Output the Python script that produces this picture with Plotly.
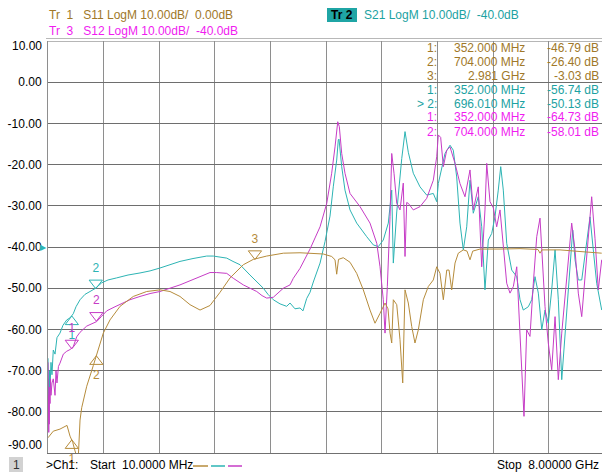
import plotly.graph_objects as go

FONT = "Liberation Sans, Arial, sans-serif"
C11_LINE, C11_TEXT = "#b68c3c", "#a07828"
C21_LINE, C21_TEXT = "#2db4b4", "#1ca2a2"
C12_LINE, C12_TEXT = "#c63cc6", "#f01cf0"

# ---------------- data ----------------
start_ghz, stop_ghz = 0.01, 8.0

# S21 (Tr 2), dB, ref -40 dB
freq_s21 = [0.010, 0.013, 0.017, 0.021, 0.024, 0.028, 0.032, 0.039, 0.053, 0.067,
            0.086, 0.111, 0.139, 0.182, 0.225, 0.279, 0.326, 0.373, 0.412, 0.470,
            0.541, 0.613, 0.685, 0.781, 0.872, 0.996, 1.159, 1.331, 1.475, 1.618,
            1.762, 1.905, 2.092, 2.289, 2.383, 2.480, 2.576, 2.666, 2.767, 2.910,
            2.996, 3.101, 3.169, 3.245, 3.341, 3.437, 3.485, 3.556, 3.628, 3.671,
            3.724, 3.772, 3.819, 3.858, 3.916, 3.987, 4.059, 4.106, 4.155, 4.178,
            4.188, 4.227, 4.274, 4.346, 4.442, 4.586, 4.681, 4.753, 4.824, 4.896,
            4.921, 4.945, 4.968, 5.017, 5.089, 5.136, 5.183, 5.255, 5.351, 5.447,
            5.542, 5.591, 5.614, 5.663, 5.710, 5.782, 5.829, 5.878, 5.925, 5.973,
            6.022, 6.069, 6.116, 6.188, 6.237, 6.284, 6.332, 6.381, 6.428, 6.475,
            6.510, 6.547, 6.596, 6.668, 6.740, 6.787, 6.834, 6.906, 6.955, 7.002,
            7.050, 7.099, 7.146, 7.193, 7.242, 7.290, 7.337, 7.386, 7.409, 7.458,
            7.505, 7.544, 7.577, 7.624, 7.673, 7.745, 7.792, 7.839, 7.888, 7.960]
s21_db = [-67, -76, -70, -80, -72, -78, -70, -74, -68, -71,
          -65, -66, -62, -60.9, -59, -57.7, -57.2, -56.2, -54.5, -52.8,
          -51.5, -50.8, -50.1, -48.7, -48, -47.5, -46.8, -46.3, -45.8, -45.1,
          -44.3, -43.5, -42.8, -42.2, -42.2, -42.5, -42.7, -43.5, -44.3, -46.8,
          -48.3, -50, -51.5, -52.8, -53.8, -54.4, -53.6, -55, -54.8, -55.5,
          -52.5, -51, -48.5, -46.5, -43.9, -38.7, -32.5, -25.4, -18.9, -14,
          -13.8, -20.5, -26.2, -31, -34.2, -37.5, -39.5, -39.9, -38.3, -34.2,
          -30.2, -26.2, -43.9, -31.5, -18.5, -12, -17, -22.1, -25.4, -27.4,
          -27, -29, -24.6, -20.5, -17.3, -15.3, -16.5, -23, -34.2, -40.7,
          -35.1, -23.8, -31.8, -27.8, -35.1, -50.4, -38.3, -36.7, -32.6, -26.2,
          -20.5, -26.2, -39.1, -45.6, -47.2, -52.8, -55.3, -54.5, -52.8, -47.2,
          -51.2, -60.1, -55.3, -58.5, -50.4, -40.7, -52.8, -72.2, -66.6, -55.3,
          -43.1, -35.9, -43.1, -48, -48, -39.1, -32.7, -40.7, -48.8, -55.3]

# S12 (Tr 3), dB, ref -40 dB
freq_s12 = [0.010, 0.013, 0.017, 0.021, 0.024, 0.028, 0.032, 0.039, 0.046, 0.053,
            0.067, 0.086, 0.111, 0.125, 0.139, 0.160, 0.182, 0.230, 0.279, 0.326,
            0.373, 0.422, 0.470, 0.566, 0.627, 0.709, 0.781, 0.853, 0.972, 1.091,
            1.187, 1.331, 1.475, 1.618, 1.762, 1.905, 2.049, 2.193, 2.336, 2.432,
            2.576, 2.671, 2.814, 2.910, 3.007, 3.083, 3.150, 3.245, 3.312, 3.389,
            3.485, 3.532, 3.628, 3.700, 3.772, 3.844, 3.916, 4.012, 4.083, 4.131,
            4.170, 4.193, 4.227, 4.274, 4.346, 4.490, 4.633, 4.730, 4.777, 4.824,
            4.849, 4.882, 4.921, 4.945, 4.978, 5.017, 5.040, 5.064, 5.111, 5.136,
            5.160, 5.183, 5.255, 5.351, 5.447, 5.542, 5.591, 5.614, 5.648, 5.686,
            5.735, 5.782, 5.854, 5.925, 5.997, 6.069, 6.116, 6.188, 6.237, 6.284,
            6.309, 6.356, 6.404, 6.452, 6.500, 6.547, 6.596, 6.643, 6.691, 6.740,
            6.777, 6.811, 6.844, 6.883, 6.930, 6.978, 7.027, 7.074, 7.113, 7.146,
            7.193, 7.242, 7.290, 7.337, 7.386, 7.433, 7.480, 7.529, 7.577, 7.624,
            7.673, 7.720, 7.768, 7.816, 7.864, 7.911, 7.960]
s12_db = [-68, -80, -72, -85, -76, -83, -74, -78, -72, -76,
          -73, -72, -76, -70, -73, -69, -68.2, -66, -65.3, -64.9,
          -64.2, -61.8, -60.7, -59.2, -58.7, -58.1, -56.8, -55.5, -54.5, -53.6,
          -52.8, -52, -51.3, -50.8, -50, -49.2, -48.2, -47.2, -46.2, -46.2,
          -46.4, -47.6, -49.2, -50, -50.8, -51.8, -52.4, -52.2, -51.2, -50,
          -49.2, -47.6, -45.2, -43, -40.5, -37.8, -35.1, -29.4, -22.1, -15.7,
          -9.6, -10.8, -17.3, -22.1, -27, -30.2, -34.2, -39.1, -44.8, -52.8,
          -60.9, -49.6, -32.6, -17.3, -22.1, -29.4, -30.2, -31, -24.5, -42.3,
          -29.2, -29.4, -31, -30.2, -28.2, -23.8, -18.1, -12.8, -13.4, -20.5,
          -16.5, -15.7, -19.7, -24.6, -27.8, -21.3, -31, -25.4, -44.8, -31,
          -19.7, -29, -30.5, -35.1, -31, -40.7, -48.8, -51.2, -49.6, -44.8,
          -56.9, -71.4, -81.1, -60.1, -61.7, -48.8, -37.5, -33, -44, -54.5,
          -63.3, -69.8, -56.9, -72.2, -60.9, -51.7, -43.9, -34.2, -40.7, -51.2,
          -56.9, -47.2, -35.9, -27.8, -38, -50.4, -43.1]

# S11 (Tr 1), dB, ref 0 dB
freq_s11 = [0.010, 0.086, 0.182, 0.254, 0.283, 0.326, 0.365, 0.398, 0.426, 0.445,
            0.470, 0.494, 0.566, 0.660, 0.732, 0.804, 0.900, 1.044, 1.235, 1.427,
            1.618, 1.762, 1.905, 2.049, 2.193, 2.336, 2.480, 2.624, 2.814, 2.958,
            3.150, 3.389, 3.628, 3.819, 3.963, 4.083, 4.131, 4.155, 4.181, 4.250,
            4.346, 4.442, 4.537, 4.633, 4.705, 4.777, 4.849, 4.892, 4.921, 4.945,
            4.968, 5.017, 5.064, 5.103, 5.136, 5.183, 5.232, 5.279, 5.327, 5.399,
            5.470, 5.542, 5.591, 5.638, 5.686, 5.735, 5.768, 5.806, 5.854, 5.901,
            5.973, 6.026, 6.069, 6.108, 6.213, 6.500, 6.787, 7.045, 7.074, 7.103,
            7.361, 7.648, 7.960]
s11_db = [-46.3, -44.7, -44.2, -43.5, -43.3, -45.9, -47.4, -49.5, -51, -51,
          -42, -39, -33.8, -28.8, -24.6, -20.9, -17.7, -14.4, -12, -10.8,
          -10.4, -10.8, -12, -14, -15.3, -14.2, -11, -7.5, -4.3, -3,
          -2.2, -1.5, -1.4, -1.5, -1.7, -2.3, -3.1, -6.6, -3, -2.6,
          -3.7, -6.4, -10.4, -15.3, -18.5, -16.1, -13.6, -15, -20.9, -23.3,
          -12.8, -14, -22.5, -33, -10.4, -13.6, -19.3, -23.3, -20.1, -12.8,
          -9.6, -8, -4.8, -6.4, -12.8, -5.6, -5.6, -10.4, -3.9, -1.5,
          -0.7, -1, -3.1, -1, -0.5, -0.5, -0.4, -0.6, -1.5, -0.7,
          -0.7, -1.1, -1.5]

# markers
s11_mk_freq = [0.352, 0.704, 2.981]
s11_mk_db = [-46.79, -26.40, -3.03]
s11_mk_below = [True, True, False]
s21_mk_freq = [0.352, 0.69601]
s21_mk_db = [-56.74, -50.13]
s21_mk_below = [True, False]
s21_active = 1
s12_mk_freq = [0.352, 0.704]
s12_mk_db = [-64.73, -58.01]
s12_mk_below = [False, False]

y_tick_vals = [10, 0, -10, -20, -30, -40, -50, -60, -70, -80, -90]
y_tick_text = ["10.00", "0.00", "-10.00", "-20.00", "-30.00", "-40.00",
               "-50.00", "-60.00", "-70.00", "-80.00", "-90.00"]

# ---------------- layout geometry ----------------
W, H = 602, 474
PL, PR, PT, PB = 48, 602, 41, 453
DIV_PX = 55.65
x_end = start_ghz + (stop_ghz - start_ghz) * (PR - PL) / (10 * DIV_PX)
grid_x = [start_ghz + k * (stop_ghz - start_ghz) / 10 for k in range(10)]


def fx(x):
    return (x - PL) / (PR - PL)


def fy(y):
    return (PB - y) / (PB - PT)


fig = go.Figure()

fig.add_trace(go.Scatter(x=freq_s21, y=s21_db, mode="lines",
                         line=dict(color=C21_LINE, width=1), hoverinfo="skip"))
fig.add_trace(go.Scatter(x=freq_s12, y=s12_db, mode="lines",
                         line=dict(color=C12_LINE, width=1), hoverinfo="skip"))
fig.add_trace(go.Scatter(x=freq_s11, y=s11_db, mode="lines", yaxis="y2",
                         line=dict(color=C11_LINE, width=1), hoverinfo="skip"))

DB_PER_PX = 100.0 / (PB - PT)
MK_SIZE = 11.5
OFF = (MK_SIZE / 2) * DB_PER_PX


def add_markers(freqs, dbs, below, color, yaxis):
    for i, (f, v, b) in enumerate(zip(freqs, dbs, below)):
        if b:
            y, sym, tp = v - OFF, "triangle-up-open", "bottom center"
        else:
            y, sym, tp = v + OFF, "triangle-down-open", "top center"
        fig.add_trace(go.Scatter(
            x=[f], y=[y], mode="markers+text", text=[str(i + 1)], textposition=tp,
            marker=dict(symbol=sym, size=MK_SIZE, color=color, line=dict(width=1, color=color)),
            textfont=dict(family=FONT, size=12, color=color),
            cliponaxis=False, yaxis=yaxis, hoverinfo="skip"))


add_markers(s21_mk_freq, s21_mk_db, s21_mk_below, C21_LINE, "y")
add_markers(s12_mk_freq, s12_mk_db, s12_mk_below, C12_LINE, "y")
add_markers(s11_mk_freq, s11_mk_db, s11_mk_below, C11_LINE, "y2")

ann = []
shapes = []


def text(x, y, s, color="#000000", anchor="left", size=12, **kw):
    ann.append(dict(x=fx(x), y=fy(y), xref="paper", yref="paper", text=s, showarrow=False,
                    xanchor=anchor, yanchor="middle",
                    font=dict(family=FONT, size=size, color=color), **kw))


NB = "\u00a0"
# header
text(46.5, 15, f"Tr{NB}{NB}1{NB}{NB}{NB}S11 LogM 10.00dB/{NB}{NB}0.00dB", C11_TEXT)
text(46.5, 31, f"Tr{NB}{NB}3{NB}{NB}{NB}S12 LogM 10.00dB/{NB}{NB}-40.0dB", C12_TEXT)
shapes.append(dict(type="rect", xref="paper", yref="paper", x0=fx(327), x1=fx(357),
                   y0=fy(22), y1=fy(8), fillcolor="#1fa5a5", line=dict(width=0)))
text(342, 15, f"<b>Tr{NB}2</b>", "#000000", anchor="center")
text(361.5, 15, f"S21 LogM 10.00dB/{NB}{NB}-40.0dB", C21_TEXT)
shapes.append(dict(type="line", xref="paper", yref="paper", x0=fx(46), x1=1,
                   y0=fy(38.5), y1=fy(38.5), line=dict(color="#b8b8b8", width=1)))


# marker table
def fmt_f(f):
    return f"{f * 1000:.3f} MHz" if f < 1 else f"{f:.3f} GHz"


rows = []
for i, (f, v) in enumerate(zip(s11_mk_freq, s11_mk_db)):
    rows.append((f"{i + 1}:", fmt_f(f), f"{v:.2f} dB", C11_TEXT))
for i, (f, v) in enumerate(zip(s21_mk_freq, s21_mk_db)):
    lab = f"&gt;{NB}{i + 1}:" if i == s21_active else f"{i + 1}:"
    rows.append((lab, fmt_f(f), f"{v:.2f} dB", C21_TEXT))
for i, (f, v) in enumerate(zip(s12_mk_freq, s12_mk_db)):
    rows.append((f"{i + 1}:", fmt_f(f), f"{v:.2f} dB", C12_TEXT))
for r, (a, b, c, col) in enumerate(rows):
    yy = 47.5 + 14 * r
    text(438.5, yy, a, col, anchor="right")
    text(527, yy, b, col, anchor="right")
    text(600.5, yy, c, col, anchor="right")

# special y labels (shifted, as on instrument)
text(44, 46, y_tick_text[0], "#000000", anchor="right")
text(44, 445, y_tick_text[-1], "#000000", anchor="right")
# reference position arrow for active trace
ann.append(dict(x=0, y=-40, xref="paper", yref="y", text="\u25b6", showarrow=False,
                xanchor="right", yanchor="middle", xshift=1,
                font=dict(family="DejaVu Sans", size=8, color=C21_LINE)))

# bottom line
shapes.append(dict(type="rect", xref="paper", yref="paper", x0=fx(9), x1=fx(23),
                   y0=fy(472), y1=fy(457), fillcolor="#d2d2d2", line=dict(width=0)))
text(16, 465, "1", "#303030", anchor="center")
text(44, 465, "&gt;Ch1:", "#000000")
text(87.5, 465, "Start", "#000000")
text(120, 465, "10.0000 MHz", "#000000")
for (x0, x1, col) in [(193, 208, C11_LINE), (211, 225, C21_LINE), (228, 242, C12_LINE)]:
    shapes.append(dict(type="line", xref="paper", yref="paper", x0=fx(x0), x1=fx(x1),
                       y0=fy(466), y1=fy(466), line=dict(color=col, width=1.5)))
text(601, 465, f"Stop{NB}{NB}8.00000 GHz", "#000000", anchor="right")

fig.update_layout(
    width=W, height=H,
    margin=dict(l=PL, r=W - PR, t=PT, b=H - PB, pad=0),
    paper_bgcolor="white", plot_bgcolor="white",
    showlegend=False,
    font=dict(family=FONT, size=12, color="#000000"),
    xaxis=dict(range=[start_ghz, x_end], tickvals=grid_x, showticklabels=False,
               showgrid=True, gridcolor="#8e8e8e", gridwidth=1, zeroline=False,
               showline=True, linecolor="#707070", linewidth=1, ticks=""),
    yaxis=dict(range=[-90, 10], tickvals=y_tick_vals,
               ticktext=[""] + y_tick_text[1:-1] + [""],
               showgrid=True, gridcolor="#6e6e6e", gridwidth=1, zeroline=False,
               showline=True, linecolor="#8e8e8e", linewidth=1,
               ticks="outside", ticklen=3, tickcolor="rgba(0,0,0,0)",
               tickfont=dict(family=FONT, size=12, color="#000000")),
    yaxis2=dict(range=[-50, 50], overlaying="y", visible=False),
    annotations=ann, shapes=shapes,
)
fig.add_shape(type="line", xref="paper", yref="y", x0=0, x1=1, y0=10, y1=10,
              line=dict(color="#6e6e6e", width=1), layer="below")

fig.write_html("out.html", config={"displayModeBar": False, "staticPlot": True},
               post_script="document.body.style.margin='0';document.body.style.overflow='hidden';")
